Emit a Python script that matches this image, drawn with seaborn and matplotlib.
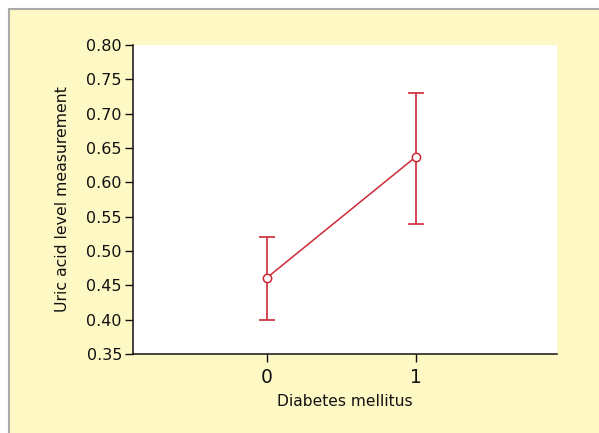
#uric acid level vs diabetes mellitus - mean with error bars
import pandas as pd
import seaborn as sns
from matplotlib import pyplot as plt
from matplotlib.lines import Line2D
from matplotlib.patches import Rectangle

#values
groups = [0, 1]
means = [0.461, 0.637]
upper = [0.521, 0.730]
lower = [0.399, 0.539]
y_ticks = [0.35, 0.40, 0.45, 0.50, 0.55, 0.60, 0.65, 0.70, 0.75, 0.80]

df = pd.DataFrame({'dm': groups, 'uric': means, 'hi': upper, 'lo': lower})

sns.set_style('ticks')
plt.rcParams['font.family'] = ['DejaVu Sans']
plt.rcParams['text.color'] = '#111111'
plt.rcParams['axes.labelcolor'] = '#111111'
plt.rcParams['xtick.color'] = '#111111'
plt.rcParams['ytick.color'] = '#111111'

red = '#cc2a36'
bg = '#fef8c4'

fig = plt.figure(figsize=(5.99, 4.33), dpi=100)
fig.patch.set_facecolor('white')
#yellow panel with grey frame on top and left
fig.add_artist(Rectangle((9/599, 0), 1, 1 - 9/433, transform=fig.transFigure,
                         facecolor=bg, edgecolor='none', zorder=-10))
fig.add_artist(Line2D([8.5/599, 1], [1 - 8.5/433, 1 - 8.5/433], transform=fig.transFigure,
                      color='#aaaaaa', lw=1.5))
fig.add_artist(Line2D([8.5/599, 8.5/599], [0, 1 - 8.5/433], transform=fig.transFigure,
                      color='#aaaaaa', lw=1.5))

ax = fig.add_axes([133/599, 1 - 354/433, (557 - 133)/599, (354 - 45)/433])
ax.set_facecolor('white')

yerr = [df['uric'] - df['lo'], df['hi'] - df['uric']]
ax.errorbar(df['dm'], df['uric'], yerr=yerr, fmt='none', ecolor=red,
            elinewidth=1.2, capsize=5.5, capthick=1.2, zorder=2)
sns.lineplot(data=df, x='dm', y='uric', ax=ax, color=red, lw=1.1,
             marker='o', markersize=6, markerfacecolor='white',
             markeredgecolor=red, markeredgewidth=1.1, zorder=3)

ax.set_xlim(-0.9, 1.95)
ax.set_ylim(0.35, 0.80)
ax.set_yticks(y_ticks)
ax.set_yticklabels(['%.2f' % t for t in y_ticks], fontsize=11.5)
ax.set_xticks(groups)
ax.set_xticklabels([str(g) for g in groups], fontsize=13.5)
ax.tick_params(axis='both', length=6, width=1, color='#111111', pad=2)
ax.tick_params(axis='x', pad=4)

for s in ['top', 'right']:
    ax.spines[s].set_visible(False)
for s in ['left', 'bottom']:
    ax.spines[s].set_color('#111111')
    ax.spines[s].set_linewidth(1.1)

ax.set_xlabel('Diabetes mellitus', fontsize=11.2, labelpad=5)
ax.set_ylabel('Uric acid level measurement', fontsize=11.3, labelpad=12)

plt.savefig('out.png', dpi=100, facecolor=fig.get_facecolor())
